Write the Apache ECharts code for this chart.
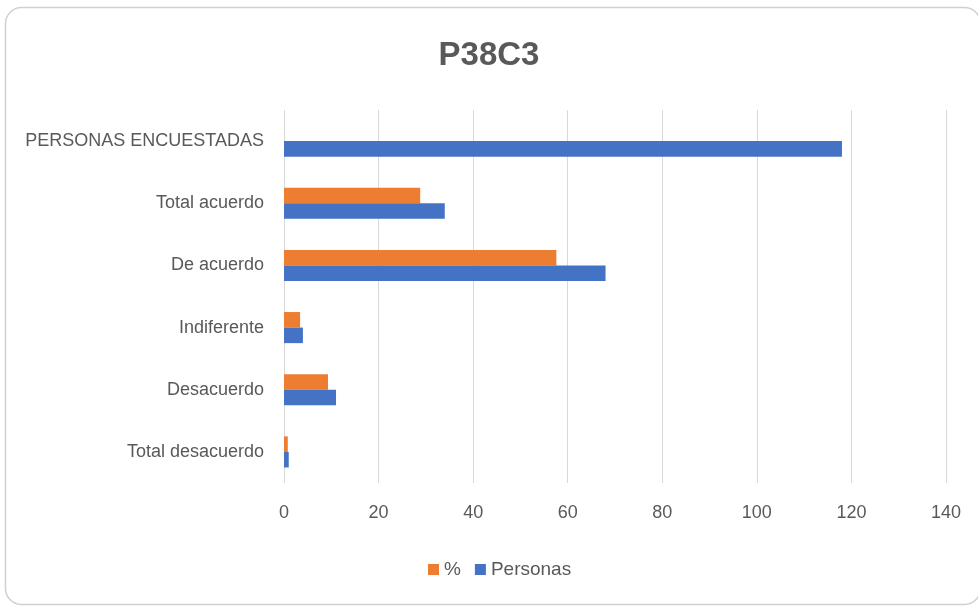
<!DOCTYPE html>
<html>
<head>
<meta charset="utf-8">
<script src="https://cdn.jsdelivr.net/npm/echarts@6/dist/echarts.min.js"></script>
<style>
html,body{margin:0;padding:0;background:#fff;}
#c{width:978px;height:609px;}
</style>
</head>
<body>
<div id="c"></div>
<script>
// Categories listed bottom to top
const categories = ['Total desacuerdo', 'Desacuerdo', 'Indiferente', 'De acuerdo', 'Total acuerdo', 'PERSONAS ENCUESTADAS'];
const pctValues = [0.8, 9.3, 3.4, 57.6, 28.8, null];
const personasValues = [1, 11, 4, 68, 34, 118];
const xTicks = [0, 20, 40, 60, 80, 100, 120, 140];
const seriesNames = ['%', 'Personas'];

const FONT = '"Liberation Sans", sans-serif';
const chart = echarts.init(document.getElementById('c'), null, {renderer: 'canvas'});
chart.setOption({
  animation: false,
  backgroundColor: '#fff',
  graphic: [{
    type: 'rect',
    shape: {x: 5.5, y: 7.5, width: 975, height: 597, r: 16},
    style: {fill: 'none', stroke: '#d0d0d0', lineWidth: 1.5},
    z: -1
  }],
  title: {
    text: 'P38C3',
    left: 'center',
    top: 34,
    textStyle: {fontFamily: FONT, fontSize: 33, fontWeight: 'bold', color: '#595959'}
  },
  legend: {
    data: seriesNames,
    bottom: 25,
    left: 423,
    itemWidth: 11,
    itemHeight: 11,
    itemGap: 14,
    icon: 'rect',
    textStyle: {fontFamily: FONT, fontSize: 19, color: '#595959'}
  },
  grid: {left: 284, right: 32, top: 110, bottom: 126, containLabel: false},
  xAxis: {
    type: 'value',
    min: xTicks[0],
    max: xTicks[xTicks.length - 1],
    interval: 20,
    axisLine: {show: false},
    axisTick: {show: false},
    splitLine: {lineStyle: {color: '#d9d9d9', width: 1}},
    axisLabel: {fontFamily: FONT, fontSize: 18, color: '#595959', margin: 21}
  },
  yAxis: {
    type: 'category',
    data: categories,
    axisLine: {show: false},
    axisTick: {show: false},
    axisLabel: {fontFamily: FONT, fontSize: 18, color: '#595959', margin: 20}
  },
  series: [
    {name: seriesNames[0], type: 'bar', data: pctValues, barGap: '0%', barCategoryGap: '50%', itemStyle: {color: '#ED7D31'}},
    {name: seriesNames[1], type: 'bar', data: personasValues, barGap: '0%', barCategoryGap: '50%', itemStyle: {color: '#4472C4'}}
  ]
});
</script>
</body>
</html>
